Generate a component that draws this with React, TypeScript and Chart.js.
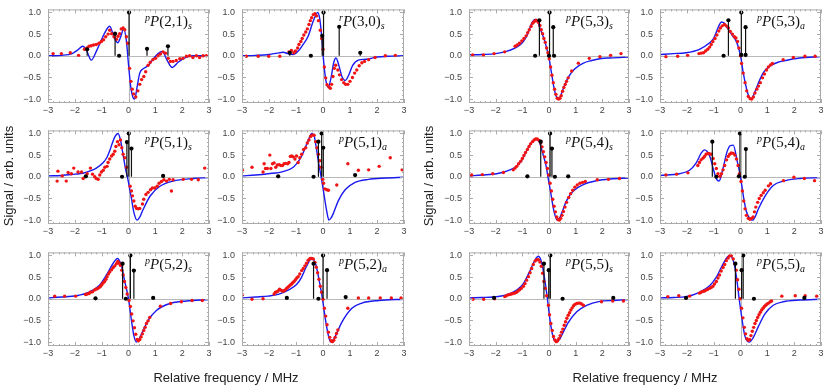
import React, { useEffect, useRef } from "react";
import { Chart, registerables } from "chart.js";
Chart.register(...registerables);

// ---------- axes ----------
const xTickValues = [-3, -2, -1, 0, 1, 2, 3];
const yTickValues = [-1, -0.5, 0, 0.5, 1];
const X_MIN = -3, X_MAX = 3, Y_MIN = -1.09, Y_MAX = 1.07;
const xAxisTitle = "Relative frequency / MHz";
const yAxisTitle = "Signal / arb. units";

type Pt = [number, number];

// ---------- P(2,1)s ----------
const blueP21s: Pt[] = [[-3,0],[-2.5,0.01],[-2.1,0.05],[-1.9,0.13],[-1.7,0.22],[-1.55,0.1],[-1.39,-0.1],[-1.2,0.1],[-1.0,0.38],[-0.85,0.57],[-0.7,0.68],[-0.55,0.45],[-0.4,0.3],[-0.3,0.42],[-0.18,0.62],[-0.08,0.35],[0,-0.2],[0.08,-0.7],[0.16,-0.95],[0.23,-1.0],[0.32,-0.72],[0.42,-0.4],[0.55,-0.3],[0.75,-0.22],[0.95,-0.05],[1.1,0.05],[1.26,0.1],[1.45,-0.12],[1.63,-0.27],[1.85,-0.15],[2.1,-0.05],[2.4,0],[3,0]];
const redP21s: Pt[] = [[-2.81,0.05],[-2.5,0.05],[-2.17,0.07],[-1.86,0.01],[-1.64,0.15],[-1.55,0.18],[-1.47,0.22],[-1.39,0.23],[-1.3,0.25],[-1.2,0.26],[-1.1,0.29],[-1.01,0.33],[-0.93,0.37],[-0.85,0.44],[-0.76,0.5],[-0.7,0.59],[-0.63,0.51],[-0.54,0.44],[-0.45,0.38],[-0.39,0.45],[-0.33,0.51],[-0.27,0.62],[-0.2,0.64],[-0.14,0.6],[-0.08,0.44],[-0.03,0.29],[0.04,-0.29],[0.09,-0.59],[0.14,-0.77],[0.19,-0.88],[0.27,-0.95],[0.35,-0.81],[0.42,-0.66],[0.49,-0.55],[0.57,-0.48],[0.64,-0.37],[0.73,-0.22],[0.81,-0.15],[0.91,-0.09],[1.01,-0.06],[1.1,0],[1.19,0.04],[1.29,0.09],[1.38,0.06],[1.48,-0.06],[1.56,-0.13],[1.66,-0.13],[1.78,-0.11],[1.91,-0.07],[2.03,-0.06],[2.16,-0.01],[2.28,0],[2.4,-0.04],[2.53,0],[2.65,-0.04],[2.78,0],[2.9,0]];
const sticksP21s: Pt[] = [[-1.54,0.15],[-0.5,0.51],[-0.35,0],[0.02,1.0],[0.69,0.16],[1.47,0.22]];

// ---------- rP(3,0)s ----------
const blueP30s: Pt[] = [[-3,0],[-2.5,0.01],[-2.0,0.03],[-1.7,0.06],[-1.48,0.08],[-1.3,0.05],[-1.1,0.03],[-0.9,0.12],[-0.75,0.25],[-0.55,0.45],[-0.36,0.8],[-0.2,1.0],[-0.12,0.85],[-0.05,0.45],[0.02,-0.1],[0.1,-0.55],[0.2,-0.72],[0.3,-0.5],[0.4,-0.15],[0.48,-0.05],[0.6,-0.25],[0.7,-0.48],[0.82,-0.57],[0.95,-0.45],[1.1,-0.22],[1.31,-0.1],[1.6,-0.08],[2.0,-0.03],[2.4,-0.01],[3,0]];
const redP30s: Pt[] = [[-2.84,-0.01],[-2.4,-0.01],[-2.01,-0.01],[-1.6,-0.01],[-1.26,0.09],[-1.17,0.12],[-1.08,0.07],[-1.02,0.11],[-0.94,0.18],[-0.89,0.26],[-0.82,0.33],[-0.77,0.4],[-0.71,0.48],[-0.64,0.55],[-0.58,0.62],[-0.52,0.72],[-0.47,0.81],[-0.42,0.88],[-0.36,0.95],[-0.3,0.97],[-0.24,0.92],[-0.17,0.81],[-0.1,0.59],[-0.05,0.4],[0,0.15],[0.05,-0.26],[0.1,-0.51],[0.15,-0.67],[0.22,-0.72],[0.27,-0.75],[0.32,-0.66],[0.37,-0.48],[0.42,-0.29],[0.47,-0.22],[0.55,-0.33],[0.61,-0.44],[0.69,-0.55],[0.77,-0.62],[0.84,-0.66],[0.92,-0.66],[1.0,-0.59],[1.09,-0.5],[1.17,-0.4],[1.25,-0.33],[1.34,-0.23],[1.44,-0.16],[1.54,-0.13],[1.69,-0.09],[1.93,-0.04],[2.31,0],[2.68,0.01]];
const sticksP30s: Pt[] = [[-1.23,0.07],[-0.45,0],[-0.03,0.46],[0.02,1.0],[0.6,0.67],[1.38,0.07]];

// ---------- pP(5,3)s ----------
const blueP53s: Pt[] = [[-3,0.02],[-2.5,0.03],[-2.0,0.05],[-1.6,0.1],[-1.3,0.17],[-1.09,0.25],[-0.95,0.34],[-0.84,0.45],[-0.74,0.6],[-0.65,0.75],[-0.52,0.84],[-0.42,0.78],[-0.34,0.64],[-0.25,0.5],[-0.15,0.32],[-0.07,0.13],[0,-0.05],[0.1,-0.42],[0.2,-0.78],[0.28,-0.95],[0.35,-1.0],[0.45,-0.9],[0.54,-0.75],[0.72,-0.5],[0.97,-0.3],[1.29,-0.17],[1.6,-0.11],[1.91,-0.07],[2.3,-0.05],[3,-0.03]];
const redP53s: Pt[] = [[-2.86,0.02],[-2.46,0.02],[-2.06,0.05],[-1.66,0.09],[-1.27,0.22],[-1.19,0.25],[-1.11,0.29],[-1.02,0.34],[-0.94,0.4],[-0.86,0.46],[-0.8,0.53],[-0.74,0.6],[-0.67,0.68],[-0.61,0.75],[-0.55,0.79],[-0.49,0.82],[-0.44,0.8],[-0.39,0.77],[-0.34,0.7],[-0.29,0.6],[-0.24,0.51],[-0.19,0.4],[-0.14,0.31],[-0.09,0.18],[-0.04,0.07],[0.01,-0.07],[0.06,-0.26],[0.11,-0.45],[0.16,-0.62],[0.21,-0.77],[0.26,-0.89],[0.31,-0.98],[0.36,-1.0],[0.41,-0.98],[0.46,-0.92],[0.51,-0.82],[0.56,-0.73],[0.61,-0.66],[0.66,-0.59],[0.72,-0.51],[0.85,-0.35],[1.1,-0.17],[1.51,-0.06],[1.91,-0.02],[2.31,0.01],[2.7,0.05]];
const sticksP53s: Pt[] = [[-0.52,0],[-0.36,0.82],[0,0],[0.02,1.0],[0.16,0.66],[0.19,0]];

// ---------- pP(5,3)a ----------
const blueP53a: Pt[] = [[-3,0.03],[-2.5,0.05],[-2.03,0.07],[-1.53,0.15],[-1.15,0.3],[-1.0,0.4],[-0.9,0.55],[-0.8,0.7],[-0.71,0.78],[-0.6,0.75],[-0.53,0.68],[-0.4,0.56],[-0.28,0.45],[-0.18,0.36],[-0.09,0.22],[-0.03,0.08],[0.03,-0.1],[0.09,-0.35],[0.22,-0.75],[0.3,-0.92],[0.38,-1.0],[0.48,-0.92],[0.59,-0.75],[0.7,-0.58],[0.84,-0.4],[1.0,-0.28],[1.15,-0.22],[1.4,-0.15],[1.59,-0.12],[2.2,-0.05],[3,-0.02]];
const redP53a: Pt[] = [[-2.78,-0.02],[-2.34,-0.01],[-1.97,0.01],[-1.55,0.05],[-1.47,0.06],[-1.38,0.07],[-1.3,0.11],[-1.22,0.15],[-1.15,0.2],[-1.09,0.26],[-1.03,0.33],[-0.95,0.4],[-0.88,0.48],[-0.81,0.57],[-0.75,0.64],[-0.68,0.69],[-0.6,0.72],[-0.53,0.69],[-0.45,0.64],[-0.38,0.56],[-0.3,0.5],[-0.23,0.44],[-0.17,0.41],[-0.11,0.33],[-0.06,0.18],[0,0],[0.04,-0.18],[0.1,-0.4],[0.17,-0.62],[0.23,-0.81],[0.29,-0.94],[0.36,-0.99],[0.42,-1.0],[0.48,-0.95],[0.54,-0.86],[0.61,-0.77],[0.67,-0.7],[0.74,-0.62],[0.82,-0.51],[0.89,-0.42],[0.97,-0.33],[1.04,-0.26],[1.12,-0.21],[1.19,-0.18],[1.59,-0.09],[1.97,-0.04],[2.4,-0.01],[2.78,-0.01]];
const sticksP53a: Pt[] = [[-0.63,0],[-0.45,0.82],[0.03,0.02],[0.03,1.0],[0.19,0.66],[0.19,0.02]];

// ---------- pP(5,1)s ----------
const blueP51s: Pt[] = [[-3,0.02],[-2.5,0.03],[-2.0,0.06],[-1.7,0.08],[-1.4,0.14],[-1.2,0.2],[-0.94,0.33],[-0.8,0.45],[-0.7,0.6],[-0.6,0.78],[-0.5,0.93],[-0.39,1.0],[-0.3,0.85],[-0.2,0.5],[-0.1,0.15],[-0.04,0],[0.05,-0.3],[0.11,-0.5],[0.2,-0.82],[0.32,-1.0],[0.42,-0.93],[0.55,-0.75],[0.8,-0.45],[1.17,-0.22],[1.66,-0.1],[2.41,-0.04],[3,-0.02]];
const redP51s: Pt[] = [[-2.66,-0.1],[-2.63,0.13],[-2.47,0.02],[-2.32,-0.1],[-2.25,0.1],[-2.13,0.07],[-2.04,0.2],[-1.88,0.11],[-1.75,0.11],[-1.69,-0.04],[-1.54,0.07],[-1.42,0.2],[-1.34,0.06],[-1.26,0],[-1.2,-0.04],[-1.13,-0.06],[-1.07,0.04],[-1.01,0.11],[-0.94,0.15],[-0.88,0.22],[-0.8,0.24],[-0.76,0.33],[-0.7,0.41],[-0.63,0.48],[-0.57,0.52],[-0.51,0.59],[-0.47,0.7],[-0.41,0.81],[-0.35,0.74],[-0.3,0.85],[-0.25,0.67],[-0.2,0.52],[-0.14,0.44],[-0.07,0.22],[0.06,-0.22],[0.11,-0.33],[0.15,-0.44],[0.2,-0.56],[0.25,-0.68],[0.3,-0.73],[0.36,-0.74],[0.42,-0.73],[0.52,-0.63],[0.57,-0.52],[0.65,-0.41],[0.73,-0.36],[0.82,-0.3],[0.89,-0.26],[0.98,-0.26],[1.07,-0.22],[1.14,-0.15],[1.23,-0.11],[1.32,-0.07],[1.42,-0.1],[1.52,-0.06],[1.6,-0.33],[1.66,-0.07],[2.04,-0.06],[2.35,-0.06],[2.6,-0.07],[2.84,0.2]];
const sticksP51s: Pt[] = [[-1.59,0.01],[-0.24,0],[-0.06,0.8],[0.01,1.0],[0.11,0.65],[1.29,0.02]];

// ---------- pP(5,1)a ----------
const blueP51a: Pt[] = [[-3,0.02],[-2.5,0.04],[-2.03,0.07],[-1.48,0.12],[-1.1,0.22],[-0.86,0.4],[-0.75,0.53],[-0.64,0.7],[-0.52,0.88],[-0.42,1.0],[-0.33,0.95],[-0.27,0.75],[-0.17,0.35],[-0.07,0],[0.01,-0.3],[0.14,-0.8],[0.22,-1.0],[0.3,-0.95],[0.38,-0.85],[0.57,-0.55],[0.82,-0.3],[1.19,-0.13],[1.69,-0.06],[2.31,-0.03],[3,-0.01]];
const redP51a: Pt[] = [[-2.99,0.15],[-2.63,0.22],[-2.22,0.11],[-2.18,0.3],[-2.13,0.19],[-2.06,0.19],[-1.97,0.5],[-1.93,0.19],[-1.87,0.3],[-1.81,0.32],[-1.75,0.22],[-1.69,0.27],[-1.62,0.28],[-1.56,0.26],[-1.5,0.26],[-1.44,0.3],[-1.38,0.31],[-1.31,0.3],[-1.26,0.33],[-1.21,0.47],[-1.16,0.48],[-1.1,0.46],[-1.04,0.41],[-0.98,0.48],[-0.92,0.33],[-0.86,0.44],[-0.79,0.52],[-0.72,0.63],[-0.64,0.67],[-0.58,0.78],[-0.52,0.85],[-0.46,0.93],[-0.4,0.96],[-0.33,0.96],[-0.27,0.81],[-0.22,0.67],[-0.17,0.52],[-0.12,0.37],[-0.07,0.22],[-0.01,-0.06],[0.02,-0.15],[0.07,-0.28],[0.14,-0.3],[0.2,-0.31],[0.51,-0.19],[0.92,0.3],[1.31,0.15],[1.69,0.16],[2.08,0.24],[2.49,0.44],[2.93,0.16]];
const sticksP51a: Pt[] = [[-1.66,0.01],[-0.35,0],[-0.17,0.81],[-0.05,1.0],[0.01,0.67],[1.19,0.04]];

// ---------- pP(5,4)s ----------
const blueP54s: Pt[] = [[-3,0.02],[-2.5,0.04],[-1.96,0.07],[-1.46,0.16],[-1.21,0.25],[-1.02,0.38],[-0.84,0.6],[-0.65,0.8],[-0.49,0.87],[-0.36,0.8],[-0.24,0.55],[-0.11,0.25],[-0.04,0],[0.06,-0.35],[0.16,-0.72],[0.24,-0.92],[0.32,-1.0],[0.4,-0.95],[0.47,-0.85],[0.66,-0.55],[0.91,-0.33],[1.29,-0.18],[1.79,-0.09],[2.3,-0.05],[3,-0.03]];
const redP54s: Pt[] = [[-2.9,0.04],[-2.5,0.05],[-2.11,0.07],[-1.71,0.1],[-1.34,0.16],[-1.27,0.2],[-1.21,0.24],[-1.14,0.3],[-1.06,0.36],[-1.0,0.42],[-0.94,0.49],[-0.88,0.56],[-0.81,0.63],[-0.75,0.7],[-0.69,0.76],[-0.62,0.81],[-0.56,0.85],[-0.5,0.87],[-0.44,0.87],[-0.37,0.84],[-0.31,0.78],[-0.26,0.69],[-0.21,0.58],[-0.16,0.46],[-0.11,0.33],[-0.06,0.19],[-0.01,0.04],[0.04,-0.15],[0.09,-0.33],[0.14,-0.52],[0.19,-0.68],[0.24,-0.81],[0.29,-0.93],[0.34,-0.99],[0.39,-1.0],[0.44,-0.96],[0.49,-0.89],[0.54,-0.8],[0.6,-0.7],[0.66,-0.59],[0.74,-0.48],[0.81,-0.39],[0.89,-0.31],[0.97,-0.24],[1.06,-0.19],[1.16,-0.15],[1.26,-0.13],[1.36,-0.11],[1.81,-0.07],[2.23,-0.06],[2.64,-0.04]];
const sticksP54s: Pt[] = [[-0.81,0.01],[-0.31,0.81],[0.04,1.0],[0.11,0.65],[0.22,0],[0.72,0.01]];

// ---------- pP(5,4)a ----------
const blueP54a: Pt[] = [[-3,0.03],[-2.28,0.07],[-1.9,0.15],[-1.65,0.32],[-1.46,0.55],[-1.34,0.62],[-1.15,0.48],[-1.0,0.15],[-0.9,-0.05],[-0.8,-0.1],[-0.65,0.2],[-0.5,0.58],[-0.38,0.72],[-0.27,0.73],[-0.12,0.35],[0,0],[0.12,-0.5],[0.22,-0.8],[0.35,-0.97],[0.45,-1.0],[0.55,-0.92],[0.66,-0.75],[0.91,-0.45],[1.22,-0.2],[1.6,-0.1],[2.22,-0.04],[3,-0.02]];
const redP54a: Pt[] = [[-2.78,0.04],[-2.38,0.06],[-1.96,0.09],[-1.59,0.26],[-1.53,0.33],[-1.47,0.39],[-1.4,0.43],[-1.34,0.47],[-1.28,0.52],[-1.22,0.54],[-1.16,0.53],[-1.09,0.52],[-1.02,0.42],[-0.96,0.3],[-0.9,0.19],[-0.84,0.07],[-0.77,0.01],[-0.71,0.07],[-0.65,0.16],[-0.59,0.26],[-0.52,0.39],[-0.46,0.47],[-0.4,0.52],[-0.34,0.55],[-0.27,0.54],[-0.21,0.5],[-0.15,0.41],[-0.09,0.26],[-0.04,0.07],[0.02,-0.11],[0.07,-0.33],[0.12,-0.56],[0.17,-0.74],[0.22,-0.89],[0.29,-0.96],[0.35,-0.98],[0.41,-0.96],[0.47,-0.93],[0.52,-0.81],[0.57,-0.7],[0.64,-0.59],[0.7,-0.5],[0.77,-0.43],[0.85,-0.37],[0.92,-0.31],[1.04,-0.21],[1.12,-0.16],[1.6,-0.09],[1.99,-0.01],[2.38,-0.04],[2.76,-0.09]];
const sticksP54a: Pt[] = [[-1.05,0.81],[-0.9,0],[-0.06,0.01],[-0.02,1.0],[0.16,0],[0.2,0.64]];

// ---------- pP(5,2)s ----------
const blueP52s: Pt[] = [[-3,0.02],[-2.5,0.04],[-1.94,0.07],[-1.45,0.16],[-1.07,0.32],[-0.82,0.55],[-0.57,0.82],[-0.41,0.93],[-0.26,0.75],[-0.14,0.4],[0,0],[0.11,-0.5],[0.2,-0.85],[0.3,-1.0],[0.38,-0.95],[0.48,-0.82],[0.73,-0.5],[1.04,-0.27],[1.54,-0.11],[2.16,-0.05],[3,-0.02]];
const redP52s: Pt[] = [[-2.75,0.06],[-2.38,0.06],[-1.97,0.06],[-1.6,0.1],[-1.54,0.11],[-1.47,0.12],[-1.42,0.15],[-1.34,0.16],[-1.27,0.2],[-1.22,0.22],[-1.16,0.23],[-1.09,0.26],[-1.04,0.29],[-0.99,0.33],[-0.94,0.37],[-0.89,0.4],[-0.84,0.45],[-0.8,0.51],[-0.75,0.57],[-0.7,0.62],[-0.63,0.67],[-0.57,0.72],[-0.51,0.76],[-0.45,0.81],[-0.4,0.86],[-0.35,0.82],[-0.3,0.77],[-0.25,0.66],[-0.2,0.55],[-0.15,0.4],[-0.1,0.26],[-0.05,0.11],[0.02,-0.04],[0.07,-0.18],[0.12,-0.35],[0.17,-0.51],[0.22,-0.67],[0.27,-0.82],[0.32,-0.94],[0.37,-0.97],[0.42,-0.94],[0.47,-0.88],[0.52,-0.81],[0.57,-0.73],[0.62,-0.66],[0.67,-0.57],[0.73,-0.51],[0.79,-0.43],[1.19,-0.17],[1.57,-0.11],[1.97,-0.07],[2.37,-0.04],[2.75,-0.04]];
const sticksP52s: Pt[] = [[-1.23,0.01],[-0.22,0.81],[-0.1,0],[0.07,1.0],[0.2,0.65],[0.92,0.02]];

// ---------- pP(5,2)a ----------
const blueP52a: Pt[] = [[-3,0.02],[-2.5,0.04],[-2.03,0.06],[-1.66,0.1],[-1.29,0.2],[-0.98,0.33],[-0.79,0.5],[-0.61,0.75],[-0.42,0.93],[-0.27,0.8],[-0.15,0.45],[-0.02,0],[0.07,-0.4],[0.2,-0.85],[0.29,-1.0],[0.38,-0.95],[0.47,-0.85],[0.69,-0.55],[1.07,-0.22],[1.44,-0.1],[2.06,-0.04],[3,-0.01]];
const redP52a: Pt[] = [[-2.98,0.09],[-2.63,-0.01],[-2.22,0],[-1.81,0.11],[-1.76,0.15],[-1.71,0.16],[-1.66,0.18],[-1.61,0.22],[-1.56,0.2],[-1.51,0.18],[-1.46,0.18],[-1.41,0.2],[-1.36,0.23],[-1.31,0.26],[-1.26,0.29],[-1.21,0.32],[-1.16,0.34],[-1.12,0.37],[-1.07,0.4],[-1.02,0.44],[-0.97,0.48],[-0.92,0.51],[-0.86,0.57],[-0.79,0.65],[-0.73,0.7],[-0.67,0.76],[-0.61,0.82],[-0.55,0.89],[-0.48,0.93],[-0.42,0.93],[-0.36,0.92],[-0.3,0.84],[-0.25,0.73],[-0.2,0.6],[-0.15,0.45],[-0.1,0.29],[-0.05,0.15],[0,-0.01],[0.05,-0.22],[0.1,-0.4],[0.15,-0.6],[0.2,-0.77],[0.25,-0.89],[0.3,-0.97],[0.35,-0.99],[0.4,-0.96],[0.45,-0.89],[0.5,-0.8],[0.55,-0.72],[0.92,-0.22],[1.31,0.02],[1.69,0.02],[2.12,0.02],[2.53,0.02],[2.89,0.02]];
const sticksP52a: Pt[] = [[-1.34,0.02],[-0.35,0.81],[-0.17,0],[0,1.0],[0.15,0.66],[0.84,0.04]];

// ---------- pP(5,5)s ----------
const blueP55s: Pt[] = [[-3,0.02],[-2.5,0.03],[-2.1,0.04],[-1.6,0.09],[-1.21,0.2],[-0.96,0.35],[-0.71,0.65],[-0.52,0.9],[-0.4,0.98],[-0.27,0.82],[-0.15,0.4],[-0.06,0],[0.04,-0.5],[0.14,-0.85],[0.29,-1.0],[0.38,-0.95],[0.47,-0.85],[0.72,-0.55],[1.04,-0.3],[1.41,-0.15],[1.91,-0.06],[2.4,-0.04],[3,-0.02]];
const redP55s: Pt[] = [[-2.85,-0.01],[-2.45,-0.01],[-2.04,0],[-1.66,0.05],[-1.6,0.07],[-1.54,0.09],[-1.47,0.1],[-1.41,0.11],[-1.35,0.12],[-1.29,0.13],[-1.22,0.15],[-1.16,0.18],[-1.1,0.21],[-1.04,0.24],[-0.96,0.29],[-0.9,0.35],[-0.84,0.43],[-0.77,0.51],[-0.71,0.6],[-0.65,0.7],[-0.59,0.79],[-0.52,0.87],[-0.46,0.9],[-0.4,0.9],[-0.34,0.85],[-0.29,0.75],[-0.24,0.59],[-0.19,0.4],[-0.14,0.24],[-0.09,0.07],[-0.02,-0.15],[0.02,-0.37],[0.07,-0.57],[0.12,-0.73],[0.17,-0.87],[0.22,-0.95],[0.27,-0.99],[0.32,-0.97],[0.37,-0.92],[0.42,-0.85],[0.47,-0.77],[0.52,-0.7],[0.57,-0.61],[0.62,-0.53],[0.67,-0.45],[0.72,-0.38],[0.77,-0.32],[0.82,-0.26],[0.87,-0.21],[0.92,-0.16],[0.97,-0.13],[1.04,-0.11],[1.1,-0.1],[1.16,-0.1],[1.22,-0.12],[1.29,-0.15],[1.97,-0.07],[2.39,-0.05],[2.79,-0.05]];
const sticksP55s: Pt[] = [[-2.06,0.02],[-0.19,0.81],[-0.01,0.66],[0.05,1.0],[0.51,0],[2.41,0.02]];

// ---------- pP(5,5)a ----------
const blueP55a: Pt[] = [[-3,0.02],[-2.5,0.03],[-2.03,0.05],[-1.53,0.15],[-1.15,0.3],[-0.9,0.5],[-0.71,0.73],[-0.53,0.93],[-0.4,1.0],[-0.27,0.88],[-0.15,0.5],[-0.05,0],[0.04,-0.4],[0.16,-0.85],[0.32,-1.0],[0.47,-0.9],[0.66,-0.65],[0.91,-0.35],[1.22,-0.15],[1.59,-0.07],[2.22,-0.03],[3,-0.01]];
const redP55a: Pt[] = [[-2.71,0.05],[-2.3,0.07],[-1.9,0.06],[-1.53,0.13],[-1.47,0.15],[-1.4,0.17],[-1.34,0.18],[-1.28,0.2],[-1.22,0.22],[-1.15,0.24],[-1.09,0.26],[-1.03,0.29],[-0.97,0.34],[-0.9,0.4],[-0.84,0.48],[-0.78,0.55],[-0.72,0.64],[-0.65,0.72],[-0.59,0.79],[-0.53,0.88],[-0.46,0.94],[-0.4,0.99],[-0.34,0.99],[-0.27,0.92],[-0.21,0.81],[-0.16,0.66],[-0.11,0.44],[-0.06,0.22],[-0.01,0],[0.04,-0.22],[0.09,-0.44],[0.14,-0.66],[0.19,-0.81],[0.24,-0.92],[0.29,-0.96],[0.34,-0.94],[0.39,-0.85],[0.44,-0.75],[0.49,-0.66],[0.54,-0.57],[0.59,-0.5],[0.64,-0.43],[0.69,-0.37],[0.74,-0.31],[0.79,-0.26],[0.84,-0.22],[0.89,-0.18],[0.94,-0.15],[0.99,-0.12],[1.05,-0.1],[1.11,-0.07],[1.16,-0.05],[1.54,0.06],[2.04,0.07],[2.41,0.07],[2.84,0.06]];
const sticksP55a: Pt[] = [[-2.03,0.02],[-0.19,0.81],[0.04,0.66],[0.1,1.0],[0.5,0],[2.38,0.02]];

// ---------- grid of panels ----------
const colLefts = [48, 242, 469, 660];
const colWidths = [161, 162, 160, 161];
const rowTops = [5, 126, 248];
const rowHeight = 98;

type PanelDef = { row: number; col: number; pre: string; args: string; sub: string; blue: Pt[]; red: Pt[]; sticks: Pt[] };
const panels: PanelDef[] = [
  { row: 0, col: 0, pre: "p", args: "(2,1)", sub: "s", blue: blueP21s, red: redP21s, sticks: sticksP21s },
  { row: 0, col: 1, pre: "r", args: "(3,0)", sub: "s", blue: blueP30s, red: redP30s, sticks: sticksP30s },
  { row: 0, col: 2, pre: "p", args: "(5,3)", sub: "s", blue: blueP53s, red: redP53s, sticks: sticksP53s },
  { row: 0, col: 3, pre: "p", args: "(5,3)", sub: "a", blue: blueP53a, red: redP53a, sticks: sticksP53a },
  { row: 1, col: 0, pre: "p", args: "(5,1)", sub: "s", blue: blueP51s, red: redP51s, sticks: sticksP51s },
  { row: 1, col: 1, pre: "p", args: "(5,1)", sub: "a", blue: blueP51a, red: redP51a, sticks: sticksP51a },
  { row: 1, col: 2, pre: "p", args: "(5,4)", sub: "s", blue: blueP54s, red: redP54s, sticks: sticksP54s },
  { row: 1, col: 3, pre: "p", args: "(5,4)", sub: "a", blue: blueP54a, red: redP54a, sticks: sticksP54a },
  { row: 2, col: 0, pre: "p", args: "(5,2)", sub: "s", blue: blueP52s, red: redP52s, sticks: sticksP52s },
  { row: 2, col: 1, pre: "p", args: "(5,2)", sub: "a", blue: blueP52a, red: redP52a, sticks: sticksP52a },
  { row: 2, col: 2, pre: "p", args: "(5,5)", sub: "s", blue: blueP55s, red: redP55s, sticks: sticksP55s },
  { row: 2, col: 3, pre: "p", args: "(5,5)", sub: "a", blue: blueP55a, red: redP55a, sticks: sticksP55a },
];

const PAD_L = 32, PAD_T = 8, PAD_R = 8, PAD_B = 16;
const FRAME = "#ababab";
const SANS = '"Liberation Sans", Arial, Helvetica, sans-serif';
const fmt = (v: number, d: number) => v.toFixed(d).replace("-", "\u2212");

const framePlugin = {
  id: "mmaFrame",
  beforeDatasetsDraw(chart: any) {
    const { ctx, chartArea: a, scales } = chart;
    const x0 = Math.round(scales.x.getPixelForValue(0)) + 0.5;
    const y0 = Math.round(scales.y.getPixelForValue(0)) + 0.5;
    ctx.save();
    ctx.strokeStyle = "#b8b8b8";
    ctx.lineWidth = 1;
    ctx.beginPath();
    ctx.moveTo(a.left, y0); ctx.lineTo(a.right, y0);
    ctx.moveTo(x0, a.top); ctx.lineTo(x0, a.bottom);
    ctx.stroke();
    ctx.restore();
  },
  afterDraw(chart: any) {
    const { ctx, chartArea: a, scales } = chart;
    ctx.save();
    ctx.strokeStyle = FRAME;
    ctx.lineWidth = 1;
    ctx.strokeRect(a.left + 0.5, a.top + 0.5, a.right - a.left - 1, a.bottom - a.top - 1);
    ctx.beginPath();
    for (let i = -15; i <= 15; i++) {
      const v = i / 5;
      const px = Math.round(scales.x.getPixelForValue(v)) + 0.5;
      const len = i % 5 === 0 ? 4 : 2;
      ctx.moveTo(px, a.bottom); ctx.lineTo(px, a.bottom - len);
      ctx.moveTo(px, a.top); ctx.lineTo(px, a.top + len);
    }
    for (let i = -10; i <= 10; i++) {
      const v = i / 10;
      const py = Math.round(scales.y.getPixelForValue(v)) + 0.5;
      const len = i % 5 === 0 ? 4 : 2;
      ctx.moveTo(a.left, py); ctx.lineTo(a.left + len, py);
      ctx.moveTo(a.right, py); ctx.lineTo(a.right - len, py);
    }
    ctx.stroke();
    ctx.restore();
  },
};

function Panel({ def }: { def: PanelDef }) {
  const ref = useRef<HTMLCanvasElement | null>(null);
  const w = colWidths[def.col] + PAD_L + PAD_R;
  const h = rowHeight + PAD_T + PAD_B;
  useEffect(() => {
    if (!ref.current) return;
    const stickPts: any[] = [];
    def.sticks.forEach(([x, hgt]) => {
      stickPts.push({ x, y: 0 }, { x, y: hgt, top: true }, { x, y: null });
    });
    const chart = new Chart(ref.current, {
      type: "line",
      data: {
        datasets: [
          {
            data: stickPts,
            borderColor: "#111",
            borderWidth: 1.2,
            pointRadius: (c: any) => (c.raw && c.raw.top ? 2.1 : 0),
            pointBackgroundColor: "#000",
            pointBorderWidth: 0,
            spanGaps: false,
            order: 0,
          } as any,
          {
            data: def.red.map(([x, y]) => ({ x, y })),
            showLine: false,
            pointRadius: 1.7,
            pointBackgroundColor: "rgb(240,20,20)",
            pointBorderWidth: 0,
            order: 1,
          } as any,
          {
            data: def.blue.map(([x, y]) => ({ x, y })),
            borderColor: "rgb(25,25,240)",
            borderWidth: 1.4,
            pointRadius: 0,
            cubicInterpolationMode: "monotone",
            order: 2,
          } as any,
        ],
      },
      options: {
        animation: false,
        responsive: false,
        events: [],
        layout: { padding: { left: 0, top: PAD_T, right: PAD_R, bottom: 0 } },
        plugins: { legend: { display: false }, tooltip: { enabled: false } },
        scales: {
          x: {
            type: "linear",
            min: X_MIN,
            max: X_MAX,
            grid: { display: false, drawTicks: false },
            border: { display: false },
            afterBuildTicks: (s: any) => { s.ticks = xTickValues.map((v) => ({ value: v })); },
            afterFit: (s: any) => { s.height = PAD_B; },
            ticks: {
              padding: 2,
              color: "#444",
              autoSkip: false,
              maxRotation: 0,
              font: { family: SANS, size: 9 },
              callback: (v: any) => fmt(Number(v), 0),
            },
          },
          y: {
            type: "linear",
            min: Y_MIN,
            max: Y_MAX,
            grid: { display: false, drawTicks: false },
            border: { display: false },
            afterBuildTicks: (s: any) => { s.ticks = yTickValues.map((v) => ({ value: v })); },
            afterFit: (s: any) => { s.width = PAD_L; },
            ticks: {
              padding: 7,
              color: "#444",
              autoSkip: false,
              font: { family: SANS, size: 9 },
              callback: (v: any) => fmt(Number(v), 1),
            },
          },
        },
      } as any,
      plugins: [framePlugin],
    });
    return () => chart.destroy();
  }, [def]);
  const left = colLefts[def.col];
  const top = rowTops[def.row];
  return (
    <>
      <canvas
        ref={ref}
        width={w}
        height={h}
        style={{ position: "absolute", left: left - PAD_L, top: top - PAD_T, width: w, height: h }}
      />
      <div
        style={{
          position: "absolute",
          left: left + 97,
          top: top + 9,
          fontFamily: '"Liberation Serif", "Times New Roman", serif',
          fontSize: 15,
          lineHeight: "15px",
          whiteSpace: "nowrap",
          color: "#111",
        }}
      >
        <span style={{ fontStyle: "italic", fontSize: 10, verticalAlign: 5, lineHeight: 0 }}>{def.pre}</span>
        <span style={{ fontStyle: "italic" }}>P</span>
        <span>{def.args}</span>
        <span style={{ fontStyle: "italic", fontSize: 10, verticalAlign: -3, lineHeight: 0 }}>{def.sub}</span>
      </div>
    </>
  );
}

export default function App() {
  const titleStyle: React.CSSProperties = {
    position: "absolute",
    fontFamily: SANS,
    fontSize: 13,
    color: "#222",
    whiteSpace: "nowrap",
    transform: "translate(-50%, -50%)",
  };
  return (
    <div style={{ position: "absolute", left: 0, top: 0, width: 831, height: 388, background: "#fff", overflow: "hidden" }}>
      {panels.map((p, i) => (
        <Panel key={i} def={p} />
      ))}
      <div style={{ ...titleStyle, left: 226, top: 377 }}>{xAxisTitle}</div>
      <div style={{ ...titleStyle, left: 645, top: 377 }}>{xAxisTitle}</div>
      <div style={{ ...titleStyle, left: 8, top: 176, transform: "translate(-50%, -50%) rotate(-90deg)" }}>{yAxisTitle}</div>
      <div style={{ ...titleStyle, left: 428, top: 176, transform: "translate(-50%, -50%) rotate(-90deg)" }}>{yAxisTitle}</div>
    </div>
  );
}
